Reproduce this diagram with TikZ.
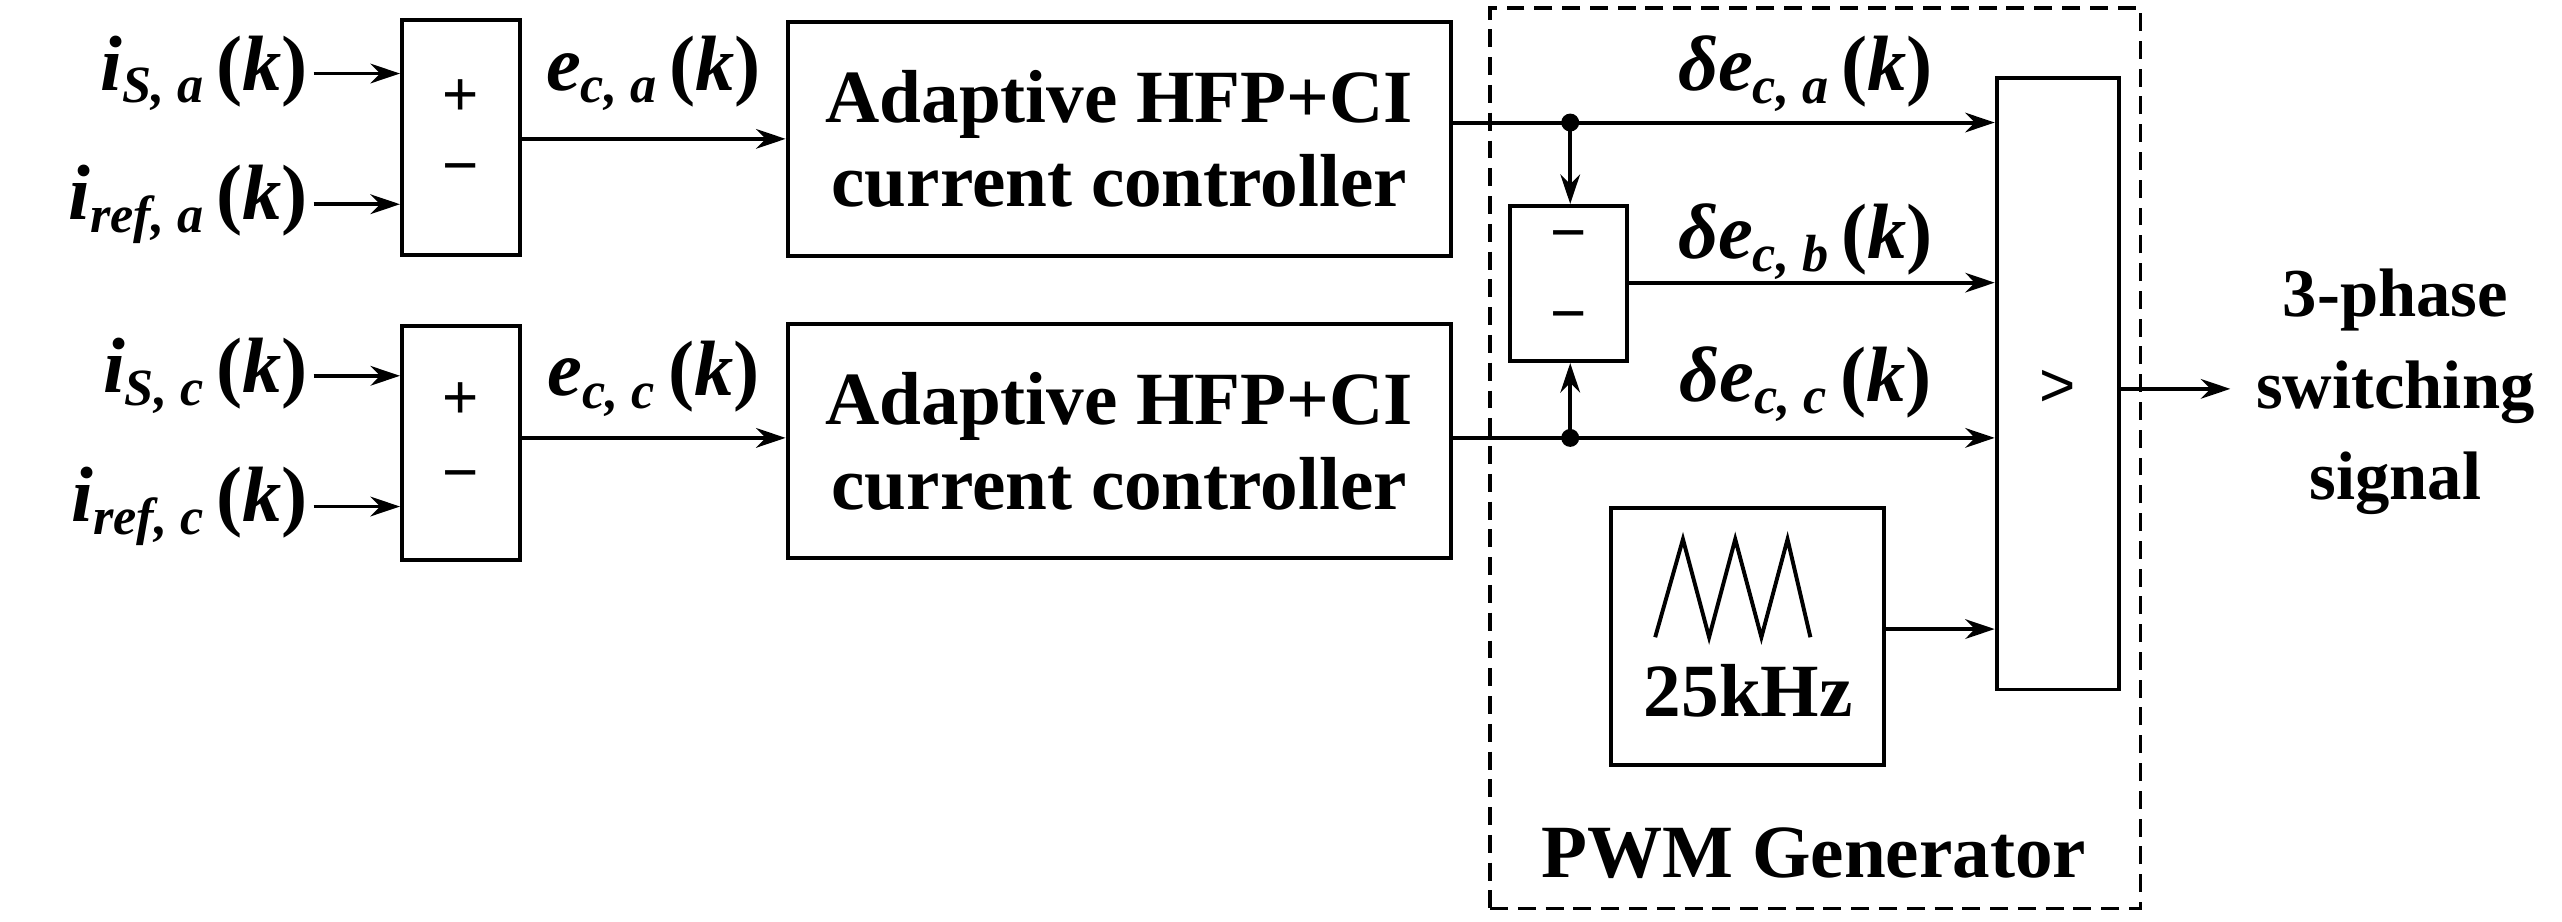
\documentclass[tikz,border=0pt]{standalone}
\usepackage{fontspec}
\setmainfont{Liberation Serif}
\newfontfamily\sansf{Liberation Sans}
\usetikzlibrary{arrows.meta}
\newcommand{\sig}[3]{\bfseries\itshape #1\raisebox{-0.35ex}{\fontsize{32}{32}\selectfont #2}\,\upshape(\itshape #3\upshape)}
\begin{document}
\begin{tikzpicture}[x=1pt,y=-1pt,
  blk/.style={draw,line width=2.4pt},
  ar/.style={line width=2.4pt,-{Stealth[length=18pt,width=12pt]}},
  ln/.style={line width=2.4pt},
  lab/.style={font=\fontsize{48}{52}\selectfont},
  big/.style={font=\fontsize{46}{52}\selectfont\bfseries,align=center},
  sg/.style={font=\fontsize{38}{38}\selectfont\sansf}]
\useasboundingbox (0,0) rectangle (1568,564);
% sum blocks
\node[blk,minimum width=72pt,minimum height=144pt] (sa) at (282,84) {};
\node[blk,minimum width=72pt,minimum height=143pt] (sc) at (282,271) {};
\node[sg] (pa) at (282,60) {+}; \node[sg] (ma) at (282,107) {\textminus};
\node[sg] (pc) at (282,245) {+}; \node[sg] (mc) at (282,295) {\textminus};
% input labels
\node[lab,anchor=east] (ia) at (192,45) {\sig{i}{S, a}{k}};
\node[lab,anchor=east] (ra) at (192,125) {\sig{i}{ref, a}{k}};
\node[lab,anchor=east] (ic) at (192,230) {\sig{i}{S, c}{k}};
\node[lab,anchor=east] (rc) at (192,310) {\sig{i}{ref, c}{k}};
\draw[ar] (ia.east) -- (ia.east -| sa.west);
\draw[ar] (ra.east) -- (ra.east -| sa.west);
\draw[ar] (ic.east) -- (ic.east -| sc.west);
\draw[ar] (rc.east) -- (rc.east -| sc.west);
% controllers
\node[blk,big,minimum width=406pt,minimum height=143pt] (ca) at (685,85) {Adaptive HFP+CI\\current controller};
\node[blk,big,minimum width=406pt,minimum height=143pt] (cc) at (685,270) {Adaptive HFP+CI\\current controller};
\draw[ar] (sa.east |- 0,85) coordinate (ea) -- (ea -| ca.west);
\draw[ar] (sc.east |- 0,268) coordinate (ec) -- (ec -| cc.west);
\node[lab] (lea) at (400,45) {\sig{e}{c, a}{k}};
\node[lab] (lec) at (400,232) {\sig{e}{c, c}{k}};
% PWM dashed box
\node[draw,line width=2.4pt,dash pattern=on 11pt off 6pt,minimum width=398pt,minimum height=551pt] (pwm) at (1111,280.5) {};
\node[big] (pwml) at (1110,522) {PWM Generator};
% comparator
\node[blk,minimum width=75pt,minimum height=374pt] (cmp) at (1259.5,235) {};
\node[sg] (gt) at (1259.5,238) {>};
% minus box
\node[blk,minimum width=72pt,minimum height=95pt] (mb) at (960,173.5) {};
\node[sg] (m1) at (960,148) {\textminus}; \node[sg] (m2) at (960,198) {\textminus};
% junctions
\coordinate (ja) at (961,75);
\coordinate (jc) at (961,268);
\fill (ja) circle (5.5pt); \fill (jc) circle (5.5pt);
\draw[ln] (ca.east |- ja) -- (ja);
\draw[ar] (ja) -- (ja -| cmp.west);
\draw[ar] (ja) -- (ja |- mb.north);
\draw[ln] (cc.east |- jc) -- (jc);
\draw[ar] (jc) -- (jc -| cmp.west);
\draw[ar] (jc) -- (jc |- mb.south);
\draw[ar] (mb.east |- 0,173) coordinate (eb) -- (eb -| cmp.west);
\node[lab] (da) at (1105,45) {\sig{δe}{c, a}{k}};
\node[lab] (db) at (1105,148) {\sig{δe}{c, b}{k}};
\node[lab] (dc) at (1105,235) {\sig{δe}{c, c}{k}};
% carrier box
\node[blk,minimum width=167pt,minimum height=157pt] (car) at (1069.5,389.5) {};
\draw[line width=2.4pt] (1013,390) -- (1030,330) -- (1046,390) -- (1062,330) -- (1078,390) -- (1094,330) -- (1108,390);
\node[big] (khz) at (1070,423) {25kHz};
\draw[ar] (car.east |- 0,385) coordinate (ek) -- (ek -| cmp.west);
% output
\coordinate (out) at (1365,238);
\draw[ar] (cmp.east |- out) -- (out);
\node[big,font=\fontsize{42}{56}\selectfont\bfseries] (ol) at (1466,240) {3-phase\\switching\\signal};
\end{tikzpicture}
\end{document}
